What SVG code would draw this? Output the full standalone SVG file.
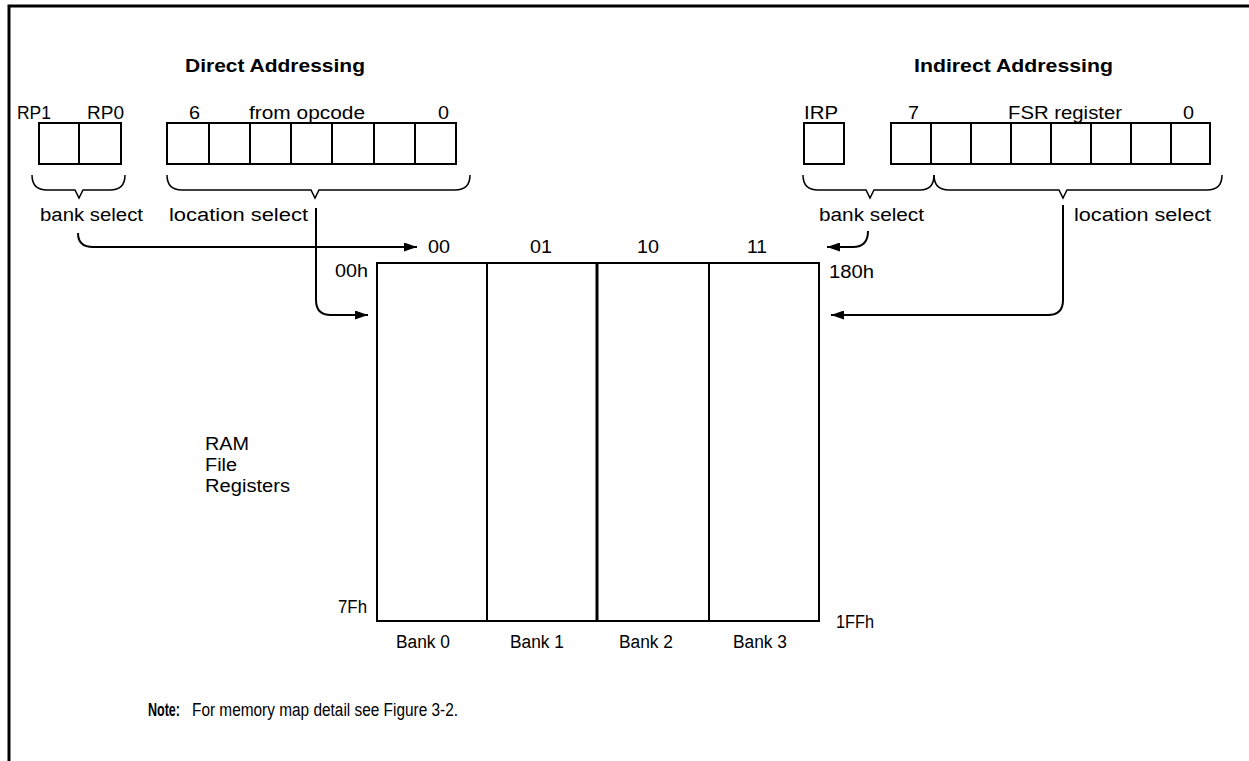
<svg xmlns="http://www.w3.org/2000/svg" width="1249" height="761" viewBox="0 0 1249 761">
<defs>
<style>
text{font-family:"Liberation Sans",Arial,sans-serif;font-size:18px;fill:#000}
.b{font-weight:bold}
.box{fill:#fff;stroke:#000;stroke-width:2}
.ln{fill:none;stroke:#000;stroke-width:2}
.br{fill:none;stroke:#000;stroke-width:1.5}
.con{fill:none;stroke:#000;stroke-width:2}
</style>
<marker id="ah" markerWidth="13" markerHeight="9" refX="13" refY="4.5" orient="auto" markerUnits="userSpaceOnUse"><path d="M0,0 L13,4.5 L0,9 z" fill="#000"/></marker>
</defs>
<rect width="1249" height="761" fill="#fff"/>
<path d="M9,761 L9,6 L1249,6" fill="none" stroke="#000" stroke-width="3"/>

<g id="direct">
<text class="b" x="185" y="72" textLength="180" lengthAdjust="spacingAndGlyphs">Direct Addressing</text>
<text x="17" y="119" textLength="34" lengthAdjust="spacingAndGlyphs">RP1</text>
<text x="87" y="119" textLength="37" lengthAdjust="spacingAndGlyphs">RP0</text>
<text x="189" y="119" textLength="11" lengthAdjust="spacingAndGlyphs">6</text>
<text x="249" y="119" textLength="116" lengthAdjust="spacingAndGlyphs">from opcode</text>
<text x="438" y="119" textLength="11" lengthAdjust="spacingAndGlyphs">0</text>
<rect class="box" x="39" y="123" width="82" height="41"/>
<line class="ln" x1="79" y1="123" x2="79" y2="164"/>
<rect class="box" x="167" y="123" width="289" height="41"/>
<path class="ln" d="M209,123V164M250,123V164M291,123V164M332,123V164M374,123V164M415,123V164"/>
<path class="br" d="M32,175 C32,185 37,190 47,190 L75,190 L79,198 L83,190 L110,190 C120,190 125,185 125,175"/>
<path class="br" d="M167,175 C167,185 172,190 182,190 L311,190 L315,198 L319,190 L455,190 C465,190 470,185 470,175"/>
<text x="40" y="221" textLength="103" lengthAdjust="spacingAndGlyphs">bank select</text>
<text x="169" y="221" textLength="139" lengthAdjust="spacingAndGlyphs">location select</text>
</g>

<g id="indirect">
<text class="b" x="914" y="72" textLength="199" lengthAdjust="spacingAndGlyphs">Indirect Addressing</text>
<text x="804" y="119" textLength="34" lengthAdjust="spacingAndGlyphs">IRP</text>
<text x="908" y="119" textLength="11" lengthAdjust="spacingAndGlyphs">7</text>
<text x="1008" y="119" textLength="114" lengthAdjust="spacingAndGlyphs">FSR register</text>
<text x="1183" y="119" textLength="11" lengthAdjust="spacingAndGlyphs">0</text>
<rect class="box" x="804" y="123" width="40" height="41"/>
<rect class="box" x="891" y="123" width="319" height="41"/>
<path class="ln" d="M931,123V164M971,123V164M1011,123V164M1051,123V164M1091,123V164M1131,123V164M1171,123V164"/>
<path class="br" d="M803,175 C803,185 808,190 818,190 L866,190 L870,198 L874,190 L920,190 C930,190 934,185 934,175"/>
<path class="br" d="M934,175 C934,185 939,190 949,190 L1059,190 L1063,198 L1067,190 L1207,190 C1217,190 1222,185 1222,175"/>
<text x="819" y="221" textLength="105" lengthAdjust="spacingAndGlyphs">bank select</text>
<text x="1074" y="221" textLength="137" lengthAdjust="spacingAndGlyphs">location select</text>
</g>

<g id="memory">
<rect class="box" x="377" y="263" width="442" height="358"/>
<line class="ln" x1="487" y1="263" x2="487" y2="621"/>
<line x1="597" y1="263" x2="597" y2="621" stroke="#000" stroke-width="3"/>
<line class="ln" x1="709" y1="263" x2="709" y2="621"/>
<text x="428" y="253" textLength="22" lengthAdjust="spacingAndGlyphs">00</text>
<text x="530" y="253" textLength="22" lengthAdjust="spacingAndGlyphs">01</text>
<text x="637" y="253" textLength="22" lengthAdjust="spacingAndGlyphs">10</text>
<text x="747" y="253" textLength="20" lengthAdjust="spacingAndGlyphs">11</text>
<text x="335" y="277" textLength="33" lengthAdjust="spacingAndGlyphs">00h</text>
<text x="829" y="278" textLength="45" lengthAdjust="spacingAndGlyphs">180h</text>
<text x="338" y="613" textLength="29" lengthAdjust="spacingAndGlyphs">7Fh</text>
<text x="836" y="628" textLength="38" lengthAdjust="spacingAndGlyphs">1FFh</text>
<text x="396" y="648" textLength="54" lengthAdjust="spacingAndGlyphs">Bank 0</text>
<text x="510" y="648" textLength="54" lengthAdjust="spacingAndGlyphs">Bank 1</text>
<text x="619" y="648" textLength="54" lengthAdjust="spacingAndGlyphs">Bank 2</text>
<text x="733" y="648" textLength="54" lengthAdjust="spacingAndGlyphs">Bank 3</text>
</g>

<g id="ram-label">
<text x="205" y="450" textLength="44" lengthAdjust="spacingAndGlyphs">RAM</text>
<text x="205" y="471" textLength="32" lengthAdjust="spacingAndGlyphs">File</text>
<text x="205" y="492" textLength="85" lengthAdjust="spacingAndGlyphs">Registers</text>
</g>

<g id="connectors">
<path class="con" d="M78,233 C78,242 83,247 93,247 L417,247" marker-end="url(#ah)"/>
<path class="con" d="M316,208 L316,300 C316,310 321,315 331,315 L368,315" marker-end="url(#ah)"/>
<path class="con" d="M868,231 C868,241 863,247 853,247 L827,247" marker-end="url(#ah)"/>
<path class="con" d="M1063,205 L1063,300 C1063,310 1058,315 1048,315 L831,315" marker-end="url(#ah)"/>
</g>

<g id="note">
<text class="b" x="148" y="716" textLength="32" lengthAdjust="spacingAndGlyphs">Note:</text>
<text x="192" y="716" textLength="266" lengthAdjust="spacingAndGlyphs">For memory map detail see Figure 3-2.</text>
</g>
</svg>
